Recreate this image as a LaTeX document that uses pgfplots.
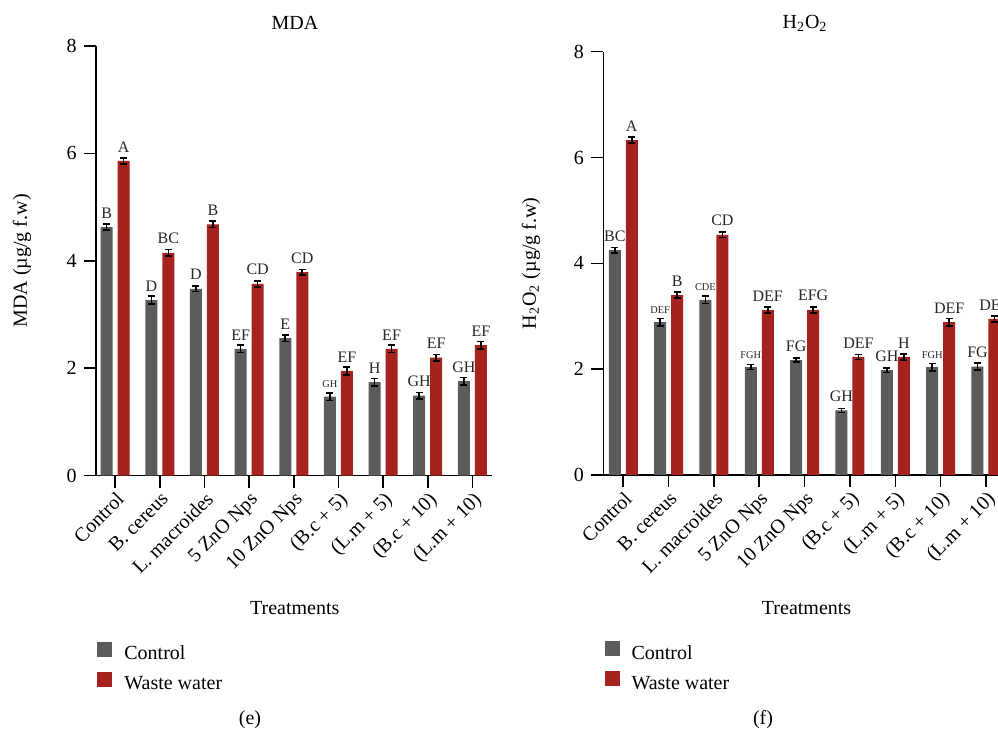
\documentclass[border=0pt]{standalone}
\usepackage{pgfplots}
\pgfplotsset{compat=1.18}
\usepackage{pgfplotstable}
\usepackage{fontspec}
\setmainfont{Liberation Serif}
\definecolor{cgray}{RGB}{94,92,90}
\definecolor{cred}{RGB}{166,34,31}
\protected\def\sm#1{{\fontsize{5.2}{6}\selectfont #1}}

\pgfplotstableread{
x y e lab
0 4.63 0.06 B
1 3.27 0.07 D
2 3.48 0.05 D
3 2.36 0.07 EF
4 2.56 0.06 E
5 1.47 0.07 \sm{GH}
6 1.74 0.07 H
7 1.49 0.06 GH
8 1.76 0.07 GH
}\mdagray
\pgfplotstableread{
x y e lab
0 5.86 0.06 A
1 4.15 0.06 BC
2 4.68 0.06 B
3 3.57 0.06 CD
4 3.79 0.05 CD
5 1.95 0.07 EF
6 2.36 0.07 EF
7 2.20 0.06 EF
8 2.43 0.07 EF
}\mdared
\pgfplotstableread{
x y e lab
0 4.25 0.05 BC
1 2.89 0.07 \sm{DEF}
2 3.31 0.07 \sm{CDE}
3 2.04 0.05 \sm{FGH}
4 2.17 0.04 FG
5 1.22 0.04 GH
6 1.98 0.04 GH
7 2.04 0.07 \sm{FGH}
8 2.05 0.07 FG
}\hgray
\pgfplotstableread{
x y e lab
0 6.33 0.06 A
1 3.40 0.06 B
2 4.54 0.05 CD
3 3.12 0.06 DEF
4 3.12 0.06 EFG
5 2.23 0.05 DEF
6 2.23 0.06 H
7 2.89 0.07 DEF
8 2.95 0.06 DEF
}\hred

\pgfplotsset{
  panel/.style={
    scale only axis,
    anchor=south west,
    ybar=2.5pt, bar width=6pt,
    ymin=0, ymax=8,
    ytick={0,2,4,6,8},
    xtick={0,...,8},
    xticklabels={Control,B. cereus,L. macroides,5 ZnO Nps,10 ZnO Nps,(B.c + 5),(L.m + 5),(B.c + 10),(L.m + 10)},
    axis x line*=bottom,
    axis y line*=left,
    axis line style={line width=0.8pt, black},
    tick style={line width=0.8pt, black},
    major tick length=6pt,
    tick align=outside,
    /pgf/number format/assume math mode=true,
    tick label style={font=\fontsize{10}{12}\selectfont},
    xticklabel style={rotate=45, anchor=north east, inner sep=1pt},
    yticklabel style={inner sep=3.5pt},
    ylabel style={anchor=center, font=\fontsize{10}{12}\selectfont},
    clip=false,
    legend cell align=left,
    legend style={draw=none, fill=none, inner sep=0pt, anchor=north west,
      font=\fontsize{10}{12}\selectfont, row sep=4pt,
      nodes={inner sep=0pt, text height=7pt, text depth=2pt},
      /tikz/every odd column/.append style={column sep=6pt}},
    legend image code/.code={\fill[##1] (0pt,-1pt) rectangle (7.5pt,6.5pt);},
    nodes near coords={\pgfplotspointmeta},
    every node near coord/.append style={font=\fontsize{8}{9}\selectfont, inner sep=0pt, anchor=south, yshift=4.2pt, text=black!85},
  },
  bars/.style={draw=none, point meta=explicit symbolic,
    error bars/y dir=both, error bars/y explicit,
    error bars/error bar style={line width=0.8pt, black},
    error bars/error mark options={rotate=90, mark size=1.75pt, line width=0.8pt, black}},
}

\begin{document}
\begin{tikzpicture}
\begin{axis}[panel, at={(48pt,127.65pt)}, width=198pt, height=214.85pt,
  xmin=-0.43, xmax=8.44,
  ylabel={MDA (µg/g f.w)},
  ylabel style={at={(axis description cs:-0.187,0.5)}},
  legend style={at={(axis description cs:0.0025,-0.385)}}]
\addplot[bars, fill=cgray] table[x=x, y=y, y error=e, meta=lab]{\mdagray};
\addlegendentry{Control}
\addplot[bars, fill=cred] table[x=x, y=y, y error=e, meta=lab]{\mdared};
\addlegendentry{Waste water}
\end{axis}

\begin{axis}[panel, at={(301.65pt,128pt)}, width=202pt, height=211.65pt,
  xmin=-0.44, xmax=8.47,
  ylabel={H\textsubscript{2}O\textsubscript{2} (µg/g f.w)},
  ylabel style={at={(axis description cs:-0.179,0.5)}},
  legend style={at={(axis description cs:0.002,-0.392)}}]
\addplot[bars, fill=cgray] table[x=x, y=y, y error=e, meta=lab]{\hgray};
\addlegendentry{Control}
\addplot[bars, fill=cred] table[x=x, y=y, y error=e, meta=lab]{\hred};
\addlegendentry{Waste water}
\end{axis}

\node[anchor=base, font=\fontsize{10}{12}\selectfont] at (147.5pt,350.5pt) {MDA};
\node[anchor=base, font=\fontsize{10}{12}\selectfont] at (402.5pt,351pt) {H\textsubscript{2}O\textsubscript{2}};
\node[anchor=base, font=\fontsize{10}{12}\selectfont] at (147.35pt,58pt) {Treatments};
\node[anchor=base, font=\fontsize{10}{12}\selectfont] at (403.3pt,58pt) {Treatments};
\node[anchor=base, font=\fontsize{10}{12}\selectfont] at (125pt,3pt) {(e)};
\node[anchor=base, font=\fontsize{10}{12}\selectfont] at (381.5pt,3pt) {(f)};

\pgfresetboundingbox
\path[use as bounding box] (0,0) rectangle (499pt,365.5pt);
\end{tikzpicture}
\end{document}
